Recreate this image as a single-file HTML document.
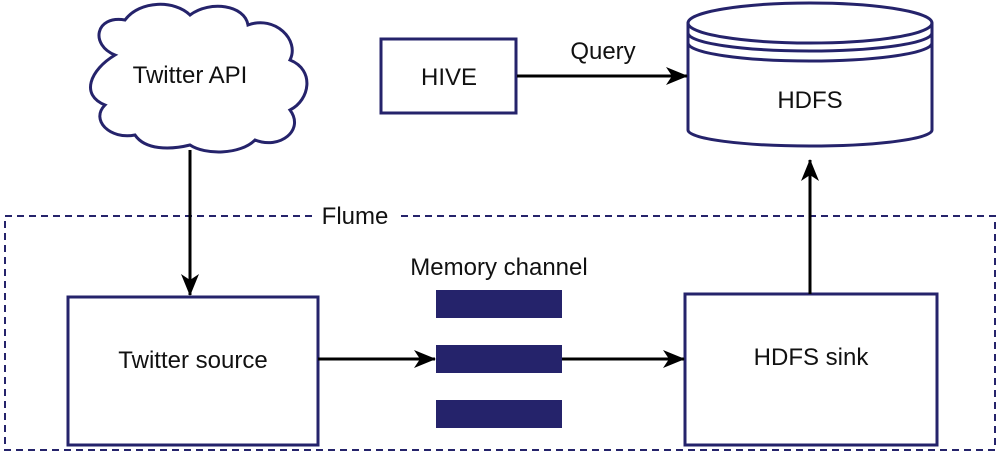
<!DOCTYPE html>
<html><head><style>body{margin:0;background:#fff}svg{display:block}text{font-family:"Liberation Sans",sans-serif;fill:#111}</style></head>
<body>
<svg width="1000" height="453" viewBox="0 0 1000 453">
<defs><marker id="a" markerWidth="22" markerHeight="18" refX="21" refY="9" orient="auto" markerUnits="userSpaceOnUse"><path d="M0,0 L22,9 L0,18 L6,9 Z" fill="#000"/></marker></defs>
<g stroke="#25236b" stroke-width="3" fill="#fff">
<rect x="5" y="216" width="990" height="234" fill="none" stroke-dasharray="7,5" stroke-width="2"/>
<path d="M115,55 C90,45 95,15 125,20 C140,0 175,0 190,15 C210,0 245,5 248,25 C275,15 300,40 290,60 C315,70 310,100 290,110 C305,130 280,150 255,140 C240,155 205,155 190,145 C170,150 145,150 135,135 C110,140 90,120 105,105 C80,95 90,70 115,55 Z"/>
<rect x="381" y="39" width="135" height="74"/>
<path d="M688,23 L688,130 A122,16 0 0 0 932,130 L932,23"/>
<ellipse cx="810" cy="23" rx="122" ry="20"/>
<path d="M688,33 A122,18 0 0 0 932,33 M688,43 A122,18 0 0 0 932,43" fill="none"/>
<rect x="68" y="297" width="250" height="148"/>
<rect x="685" y="294" width="252" height="151"/>
</g>
<g fill="#25236b"><rect x="436" y="290" width="126" height="28"/><rect x="436" y="345" width="126" height="28"/><rect x="436" y="400" width="126" height="28"/></g>
<g stroke="#000" stroke-width="3" fill="none" marker-end="url(#a)">
<line x1="190" y1="150" x2="190" y2="295"/>
<line x1="517" y1="76" x2="687" y2="76"/>
<line x1="318" y1="359" x2="435" y2="359"/>
<line x1="562" y1="359" x2="684" y2="359"/>
<line x1="810" y1="294" x2="810" y2="160"/>
</g>
<rect x="312" y="205" width="86" height="22" fill="#fff"/>
<g font-size="24" text-anchor="middle">
<text x="190" y="83">Twitter API</text>
<text x="449" y="85">HIVE</text>
<text x="603" y="59">Query</text>
<text x="810" y="108">HDFS</text>
<text x="355" y="224">Flume</text>
<text x="499" y="275">Memory channel</text>
<text x="193" y="368">Twitter source</text>
<text x="811" y="365">HDFS sink</text>
</g>
</svg>
</body></html>
